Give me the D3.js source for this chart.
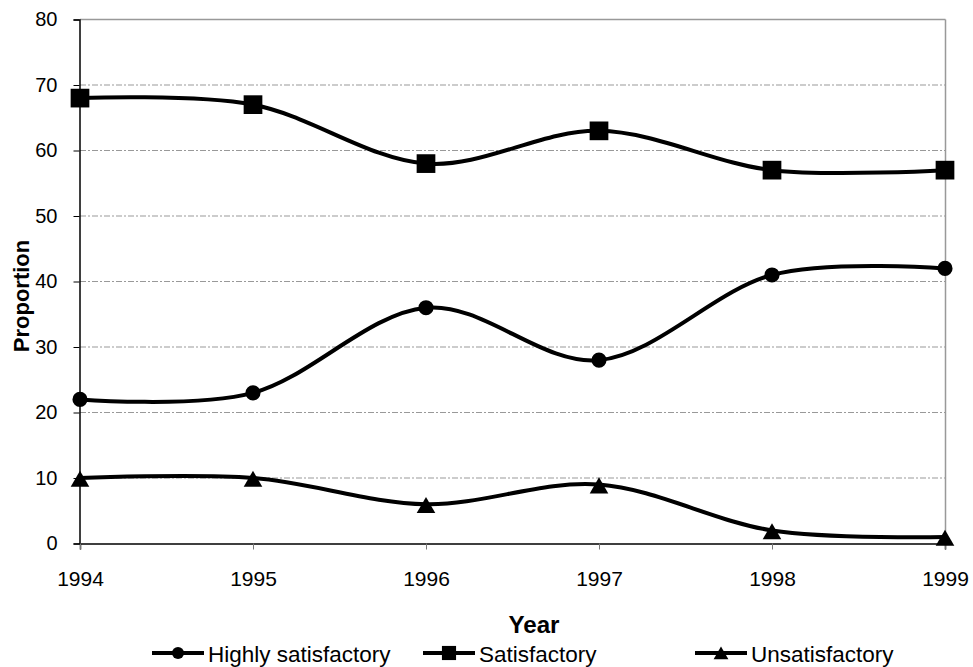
<!DOCTYPE html>
<html><head><meta charset="utf-8">
<script src="https://cdn.jsdelivr.net/npm/d3@7"></script>
<style>body{margin:0;background:#fff}svg{display:block;font-family:"Liberation Sans",Arial,sans-serif}</style>
</head><body><svg id="c" width="973" height="667"></svg>
<script>
const years = [1994, 1995, 1996, 1997, 1998, 1999];
const highly = [22, 23, 36, 28, 41, 42];
const satisfactory = [68, 67, 58, 63, 57, 57];
const unsatisfactory = [10, 10, 6, 9, 2, 1];
const yTicks = [0, 10, 20, 30, 40, 50, 60, 70, 80];
const seriesNames = ["Highly satisfactory", "Satisfactory", "Unsatisfactory"];
const seriesSymbols = ["circle", "square", "triangle"];

const svg = d3.select("#c");
const L = 80, R = 945, T = 19.5, B = 543.5;
const x = d3.scalePoint().domain(years).range([L, R]);
const y = d3.scaleLinear().domain([0, 80]).range([B, T]);

svg.append("g").selectAll("line").data(yTicks.filter(d => d > 0 && d < 80)).join("line")
  .attr("x1", L).attr("x2", R).attr("y1", d => y(d)).attr("y2", d => y(d))
  .attr("stroke", "#999").attr("stroke-width", 1).attr("stroke-dasharray", "6,2,2,2");
svg.append("line").attr("x1", L).attr("x2", R + 0.5).attr("y1", T).attr("y2", T).attr("stroke", "#999").attr("stroke-width", 1.5);
svg.append("line").attr("x1", R + 0.5).attr("x2", R + 0.5).attr("y1", T).attr("y2", B).attr("stroke", "#999").attr("stroke-width", 1.5);

const yAxis = d3.axisLeft(y).tickValues(yTicks).tickSize(6).tickPadding(16);
const gy = svg.append("g").attr("transform", `translate(${L - 0.5},0)`).call(yAxis);
const xAxis = d3.axisBottom(x).tickSize(6).tickPadding(22).tickFormat(d3.format("d"));
const gx = svg.append("g").attr("transform", `translate(0,${B})`).call(xAxis);
[gx, gy].forEach(g => {
  g.attr("font-family", "Liberation Sans, Arial, sans-serif");
  g.select(".domain").attr("stroke", "#000").attr("stroke-width", 1.5);
  g.selectAll(".tick line").attr("stroke", "#000");
  g.selectAll("text").attr("fill", "#000");
});
gx.selectAll("text").style("font-size", "21px");
gy.selectAll("text").style("font-size", "20px");
gx.selectAll(".tick line").attr("stroke", "#777");

svg.append("text").attr("transform", "translate(534,633) scale(1.05,1)").attr("text-anchor", "middle")
  .style("font-size", "23px").attr("font-weight", "bold").text("Year");
svg.append("text").attr("transform", "translate(29,296) rotate(-90)").attr("text-anchor", "middle")
  .style("font-size", "22px").attr("font-weight", "bold").text("Proportion");

const data = [highly, satisfactory, unsatisfactory];
const line = d3.line().x((d, i) => x(years[i])).y(d => y(d)).curve(d3.curveCardinal.tension(0));
const symMap = {circle: d3.symbolCircle, square: d3.symbolSquare, triangle: d3.symbolTriangle};
const symSize = {circle: 180, square: 350, triangle: 150};
const symOff = {circle: 0, square: 0, triangle: 3.5};
data.forEach((vals, k) => {
  svg.append("path").attr("d", line(vals)).attr("fill", "none").attr("stroke", "#000").attr("stroke-width", 4);
  const s = seriesSymbols[k];
  svg.append("g").selectAll("path").data(vals).join("path")
    .attr("transform", (d, i) => `translate(${x(years[i])},${y(d) + symOff[s]})`)
    .attr("d", d3.symbol(symMap[s], symSize[s])).attr("fill", "#000");
});

const legX = [152, 423, 695];
const legSize = {circle: 115, square: 200, triangle: 95};
const leg = svg.append("g");
seriesNames.forEach((n, k) => {
  const g = leg.append("g").attr("transform", `translate(${legX[k]},653)`);
  g.append("line").attr("x1", 0).attr("x2", 52).attr("y1", 0).attr("y2", 0).attr("stroke", "#000").attr("stroke-width", 4);
  const s = seriesSymbols[k];
  g.append("path").attr("transform", `translate(26,${s === "triangle" ? 2 : 0})`)
    .attr("d", d3.symbol(symMap[s], legSize[s])).attr("fill", "#000");
  g.append("text").attr("x", 56).attr("y", 9).style("font-size", "22.5px").text(n);
});
</script></body></html>
